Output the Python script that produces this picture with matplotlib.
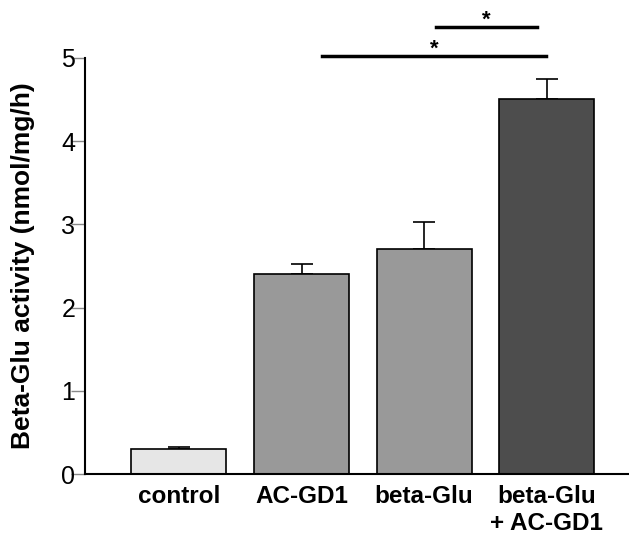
import matplotlib.pyplot as plt
import numpy as np

plt.rcParams['font.family'] = ['Liberation Sans', 'DejaVu Sans']

# data
groups = ['control', 'AC-GD1', 'beta-Glu', 'beta-Glu\n+ AC-GD1']
means = [0.30, 2.40, 2.70, 4.50]
errs = [0.02, 0.12, 0.33, 0.25]
colors = ['#e6e6e6', '#999999', '#999999', '#4d4d4d']
yticks = [0, 1, 2, 3, 4, 5]

# significance brackets: (x start, x end, height)
sig_lines = [(1.17, 2.99, 5.02), (2.10, 2.92, 5.37)]

fig = plt.figure(figsize=(6.29, 5.35), dpi=100)
ax = fig.add_axes([0.135, 0.114, 0.865, 0.778])

x = np.arange(len(groups))
ax.bar(x, means, width=0.775, color=colors, edgecolor='black', linewidth=1.2, zorder=2)
ax.errorbar(x, means, yerr=[np.zeros(len(errs)), errs], fmt='none',
            ecolor='black', elinewidth=1.2, capsize=8, capthick=1.2, zorder=1)

for x0, x1, h in sig_lines:
    ax.plot([x0, x1], [h, h], color='black', lw=2.5, clip_on=False)
    ax.text((x0 + x1) / 2, h + 0.08, '*', ha='center', va='center',
            fontsize=16, fontweight='bold')

ax.set_xlim(-0.767, 3.67)
ax.set_ylim(0, 5)
ax.set_yticks(yticks)
ax.set_yticklabels([str(t) for t in yticks], fontsize=18)
ax.set_xticks(x)
ax.set_xticklabels(groups, fontsize=17.5, fontweight='bold', linespacing=1.2)
ax.tick_params(axis='x', length=0, pad=8)
ax.tick_params(axis='y', length=10, width=1, color='#888888', pad=-3)

for s in ['top', 'right']:
    ax.spines[s].set_visible(False)
ax.spines['left'].set_linewidth(1.5)
ax.spines['bottom'].set_linewidth(1.5)

ax.set_ylabel('Beta-Glu activity (nmol/mg/h)', fontsize=19, fontweight='bold', labelpad=19)

fig.savefig('out.png', dpi=100)
